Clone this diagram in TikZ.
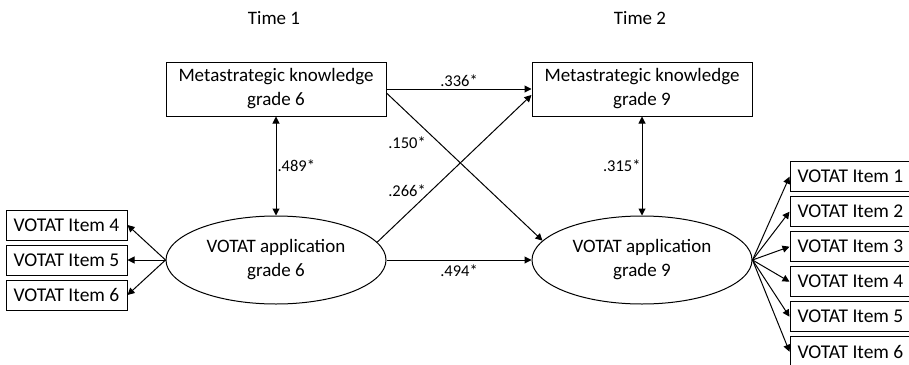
\documentclass[tikz,border=0pt]{standalone}
\usepackage{fontspec}
\setmainfont{Carlito}
\usetikzlibrary{positioning, arrows.meta, calc, shapes.geometric}

\begin{document}
\begin{tikzpicture}[
  x=1pt, y=-1pt,
  node distance=4pt,
  every node/.style={font=\fontsize{19}{24}\selectfont},
  know/.style={rectangle, draw, line width=1pt, minimum width=220pt, minimum height=54pt, align=center, inner sep=0pt},
  latent/.style={ellipse, draw, line width=1pt, minimum width=220pt, minimum height=88pt, align=center, inner sep=0pt},
  item/.style={rectangle, draw, line width=1pt, minimum width=121pt, minimum height=30pt, inner sep=0pt, font=\fontsize{19.5}{24}\selectfont},
  coef/.style={font=\fontsize{16.5}{18}\selectfont, inner sep=2pt},
  link/.style={-{Triangle[length=7pt, width=7pt]}, line width=1pt},
  cov/.style={{Triangle[length=7pt, width=7pt]}-{Triangle[length=7pt, width=7pt]}, line width=1pt}
]
  \useasboundingbox (0,0) rectangle (909,364);
  \clip (0,0) rectangle (909,364);

  \node (t1) at (274,18) {Time 1};
  \node (t2) at (640,18) {Time 2};

  \node[know] (mk6) at (276,89) {Metastrategic knowledge\\grade 6};
  \node[know] (mk9) at (642,89) {Metastrategic knowledge\\grade 9};
  \node[latent] (va6) at (276,260) {VOTAT application\\grade 6};
  \node[latent] (va9) at (642,260) {VOTAT application\\grade 9};

  % indicators grade 6
  \node[item] (l4) at (66.5,225) {VOTAT Item 4};
  \node[item, below=of l4] (l5) {VOTAT Item 5};
  \node[item, below=of l5] (l6) {VOTAT Item 6};

  % indicators grade 9
  \node[item] (r1) at (850.5,176.7) {VOTAT Item 1};
  \node[item, below=of r1] (r2) {VOTAT Item 2};
  \node[item, below=of r2] (r3) {VOTAT Item 3};
  \node[item, below=of r3] (r4) {VOTAT Item 4};
  \node[item, below=of r4] (r5) {VOTAT Item 5};
  \node[item, below=of r5] (r6) {VOTAT Item 6};

  \draw[cov] (mk6) -- node[coef, right, inner sep=1pt] (c489) {.489*} (va6);
  \draw[cov] (mk9) -- node[coef, left, inner sep=1pt] (c315) {.315*} (va9);
  \draw[link] (mk6) -- node[coef, above] (c336) {.336*} (mk9);
  \draw[link] ($(mk6.east)+(0,4)$) -- (va9.169);
  \draw[link] (va6.10) -- ($(mk9.west)+(0,6)$);
  \draw[link] (va6) -- node[coef, below, inner sep=4pt] (c494) {.494*} (va9);
  \node[coef] (c150) at (407,143) {.150*};
  \node[coef] (c266) at (407,191) {.266*};

  \draw[link] (va6.west) -- (l4.east);
  \draw[link] (va6.west) -- (l5.east);
  \draw[link] (va6.west) -- (l6.east);

  \draw[link] (va9.east) -- (r1.west);
  \draw[link] (va9.east) -- (r2.west);
  \draw[link] (va9.east) -- (r3.west);
  \draw[link] (va9.east) -- (r4.west);
  \draw[link] (va9.east) -- (r5.west);
  \draw[link] (va9.east) -- (r6.west);
\end{tikzpicture}
\end{document}
